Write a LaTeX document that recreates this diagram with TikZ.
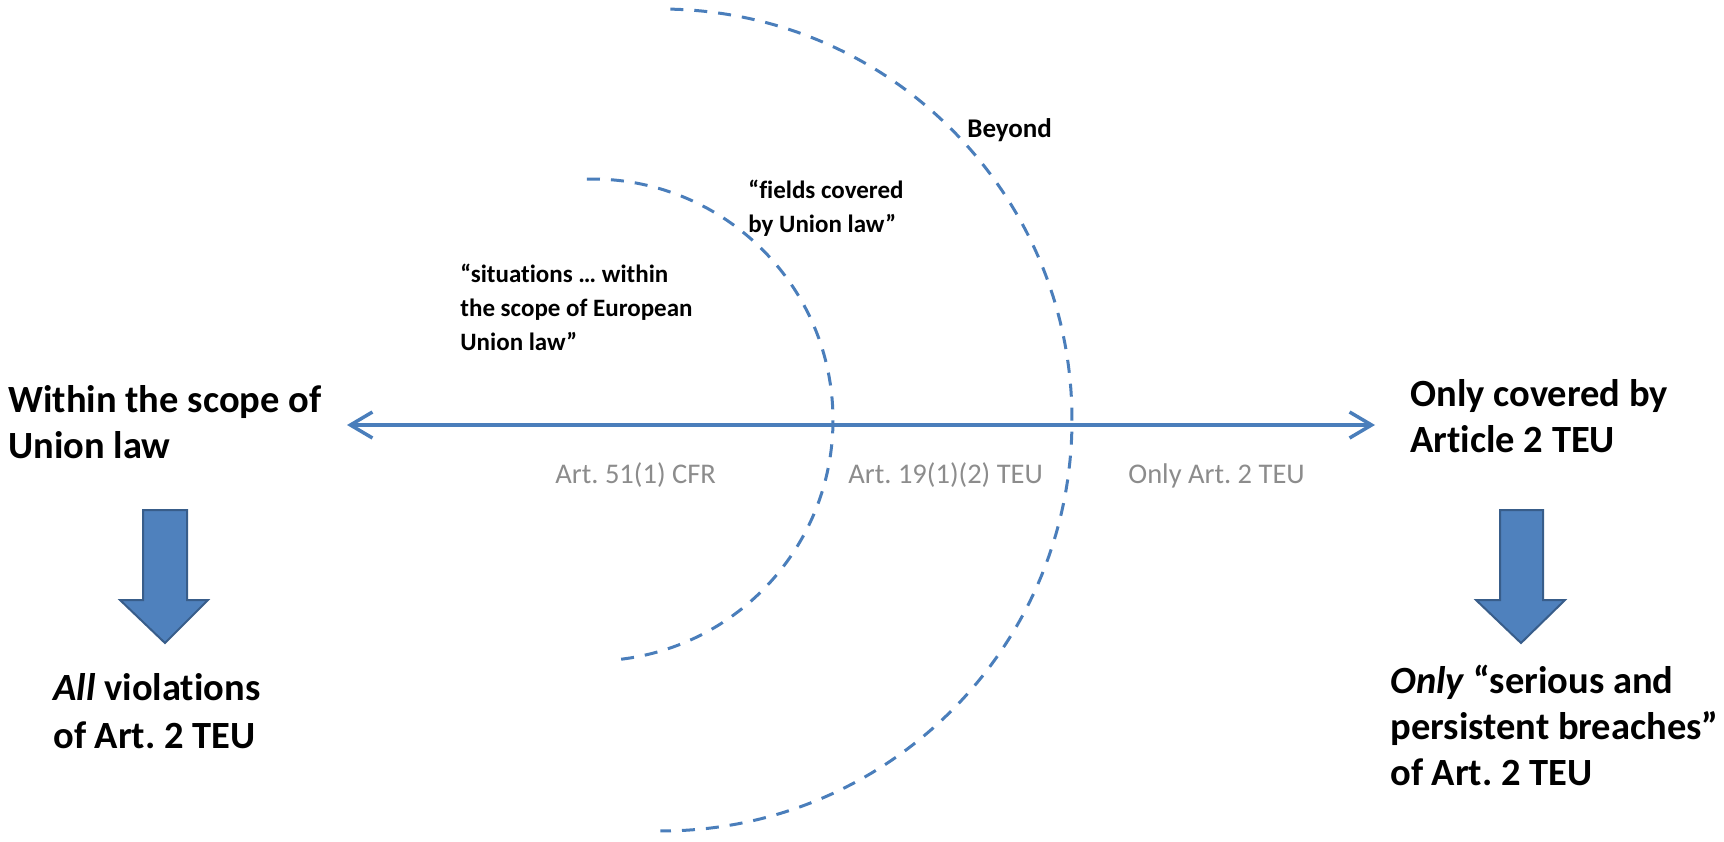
\documentclass[tikz,border=0pt]{standalone}
\usepackage{fontspec}
\setmainfont{Carlito}[Ligatures={NoCommon}]
\usetikzlibrary{arrows.meta}
\frenchspacing
\definecolor{lineblue}{RGB}{74,126,187}
\definecolor{fillblue}{RGB}{79,129,189}
\definecolor{edgeblue}{RGB}{56,93,138}
\definecolor{labelgrey}{RGB}{140,140,140}
\begin{document}
\begin{tikzpicture}[x=0.5pt,y=0.5pt,
  big/.style={font=\fontsize{19.25}{23}\selectfont\bfseries, align=left, anchor=base west, inner sep=0pt},
  quotelabel/.style={font=\fontsize{12.5}{17}\selectfont\bfseries, align=left, anchor=base west, inner sep=0pt},
  zone/.style={font=\fontsize{14.25}{17}\selectfont, text=labelgrey, anchor=base west, inner sep=0pt},
  scopearc/.style={draw=lineblue, line width=1.5pt, dash pattern=on 6.5pt off 5.5pt},
  axis/.style={draw=lineblue, line width=1.75pt, line join=round,
    {Straight Barb[length=11pt,width=13pt]}-{Straight Barb[length=11pt,width=13pt]}},
  blockarrow/.style={fill=fillblue, draw=edgeblue, line width=1pt, line join=miter}]
\useasboundingbox (0,0) rectangle (1724,-841);

% dashed scope arcs
\draw[scopearc] (592,-420) ++(91.2:241) arc[start angle=91.2, end angle=-85.2, radius=241];
\draw[scopearc] (661,-420) ++(88.7:411) arc[start angle=88.7, end angle=-90.1, radius=411];

% main axis
\coordinate (L) at (347,-425);
\coordinate (R) at (1375,-425);
\draw[axis] (L) -- (R);

% labels (anchor = baseline of the last line)
\node[big] (within) at (8,-458) {Within the scope of\\Union law};
\node[big] (onlycov) at (1410,-452) {Only covered by\\Article 2 TEU};
\node[big, font=\fontsize{19.25}{24}\selectfont\bfseries] (allviol) at (53,-748) {\textit{All} violations\\of Art. 2 TEU};
\node[big] (onlyser) at (1390,-785) {\textit{Only} “serious and\\persistent breaches”\\of Art. 2 TEU};
\node[quotelabel] (situ) at (460,-350) {“situations … within\\the scope of European\\Union law”};
\node[quotelabel] (fields) at (748,-232) {“fields covered\\by Union law”};
\node[quotelabel, font=\fontsize{13.5}{17}\selectfont\bfseries] (beyond) at (967,-137) {Beyond};
\node[zone] (z1) at (555,-483) {Art. 51(1) CFR};
\node[zone] (z2) at (848,-483) {Art. 19(1)(2) TEU};
\node[zone] (z3) at (1128,-483) {Only Art. 2 TEU};

% block arrows
\draw[blockarrow] (143,-510) -- (187,-510) -- (187,-600) -- (208,-600) -- (165,-643) -- (120,-600) -- (143,-600) -- cycle;
\draw[blockarrow] (1500,-510) -- (1543,-510) -- (1543,-600) -- (1565,-600) -- (1521,-643) -- (1476,-600) -- (1500,-600) -- cycle;
\end{tikzpicture}
\end{document}
